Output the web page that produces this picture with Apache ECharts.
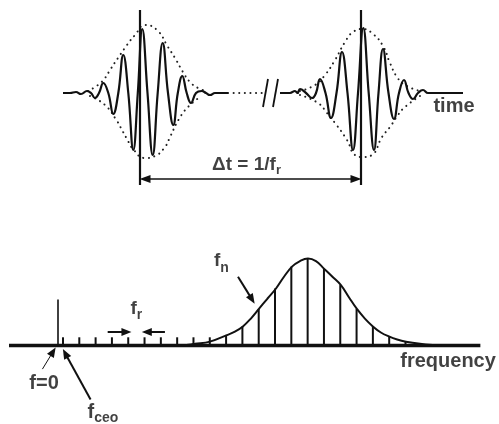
<!DOCTYPE html>
<html><head><meta charset="utf-8">
<script src="https://cdn.jsdelivr.net/npm/echarts@6/dist/echarts.min.js"></script>
<style>html,body{margin:0;padding:0;background:#fff}#c{width:499px;height:424px}</style>
</head><body><div id="c"></div>
<script>
// ---------- TIME DOMAIN (top panel): t in arbitrary units, amplitude ----------
const pulse1 = [[-77,0],[-70,0],[-64,1],[-59,-1],[-53,2],[-49,0],[-45,-5],[-41,0],[-36.7,10],[-31.7,0],[-26.7,-21],[-21.7,0],[-16.7,38],[-11.7,0],[-6.7,-57],[-2.2,0],[2.3,64],[7.5,0],[12.7,-62],[17.7,0],[22.7,50],[28,0],[33.3,-32],[37.8,0],[42.3,17],[46.7,0],[51,-10],[56,0],[61.7,2],[66,0],[70,-2],[75,0],[88,0]];
const pulse2 = [[140,0],[150,0],[155,2],[157.5,0],[160,4],[166,0],[172,-5],[176,0],[180,14],[185.5,0],[191,-25],[196.5,0],[202,41],[207.5,0],[213,-57],[218,0],[223.3,65],[228.7,0],[234,-57],[238.5,0],[243,44],[248.5,0],[254,-26],[259,0],[264,13],[268.5,0],[273,-6],[278,0],[283,3],[288,0],[293,0],[323,0]];
const env1Upper = [[-52,2],[-42,8],[-35,15],[-30,23],[-22,35],[-13,48],[-5,58],[5,68],[17,63],[28,46],[35,35],[43,21],[50,11],[58,5],[66,2]];
const env1Lower = [[-50,-3],[-35,-12],[-23,-28],[-18,-37],[-13,-46],[-7,-56],[5,-65],[15,-63],[25,-54],[30,-44],[39,-26],[48,-14],[60,-4]];
const env2Upper = [[160,2],[175,8],[185,18],[195,33],[205,51],[213,61],[223,64],[233,59],[243,47],[250,30],[257,16],[265,8],[280,2]];
const env2Lower = [[160,-2],[178,-10],[187,-20],[195,-30],[207,-47],[215,-62],[223,-64],[232,-62],[242,-44],[250,-34],[258,-22],[265,-14],[280,-3]];
const gapDotted = [[88,0],[122,0]];
const breakMarks = [[[123,-14],[128,14]],[[133,-14],[138,14]]];
const pulseMarkers = [[[0,83],[0,-92]],[[221,83],[221,-92]]];
const periodArrow = [[5,-86],[216,-86]];
const topLabels = [
  { pos:[314,-13.5], text:'{m|time}' },
  { pos:[106.5,-71.5], text:'{d|Δt = 1/f}{ds|r}' }
];

// ---------- FREQUENCY DOMAIN (bottom panel): f in units of f_r ----------
const combF = [0.31,1.31,2.31,3.31,4.31,5.31,6.31,7.31,8.31,9.31,10.31,11.31,12.31,13.31,14.31,15.31,16.31,17.31,18.31,19.31,20.31,21.31];
const combH = [0.095,0.095,0.095,0.095,0.095,0.095,0.095,0.095,0.095,0.095,0.122,0.22,0.42,0.655,0.906,0.998,0.883,0.694,0.42,0.22,0.108,0.05];
const spectrum = [[7.6,0],[8.4,0.02],[9.32,0.045],[10.36,0.12],[10.85,0.16],[11.34,0.22],[11.83,0.31],[12.32,0.42],[12.85,0.54],[13.37,0.655],[13.86,0.79],[14.35,0.906],[14.84,0.97],[15.33,1.0],[15.82,0.97],[16.31,0.883],[16.83,0.79],[17.35,0.694],[17.84,0.555],[18.33,0.42],[18.82,0.31],[19.31,0.22],[19.8,0.15],[20.29,0.105],[20.8,0.07],[21.34,0.045],[22.2,0.02],[23.0,0.005],[23.5,0]];
const baseline = [[-3,0],[25.9,0]];
const zeroLine = [[0,0],[0,0.53]];
const freqArrows = [
  { from:[3.05,0.156], to:[4.2,0.156], w:2 },
  { from:[6.56,0.156], to:[5.45,0.156], w:2 },
  { from:[-0.95,-0.27], to:[-0.3,-0.07], w:1 },
  { from:[2.0,-0.62], to:[0.45,-0.09], w:2 },
  { from:[11.04,0.79], to:[11.9,0.53], w:2 }
];
const bottomLabels = [
  { pos:[4.81,0.425], text:'{f|f}{fs|r}' },
  { pos:[10.02,0.97], text:'{f|f}{fs|n}' },
  { pos:[-0.85,-0.435], text:'{m|f=0}' },
  { pos:[2.76,-0.77], text:'{m|f}{cs|ceo}' },
  { pos:[23.92,-0.177], text:'{m|frequency}' }
];

const INK = '#111';
const FONT = "'Liberation Sans', Arial, Helvetica, sans-serif";
const rich = {
  m:  { fontFamily:FONT, fontWeight:'bold', fontSize:20, color:INK, lineHeight:22 },
  d:  { fontFamily:FONT, fontWeight:'bold', fontSize:19, color:INK, lineHeight:22 },
  ds: { fontFamily:FONT, fontWeight:'bold', fontSize:13, color:INK, lineHeight:20, padding:[11,0,0,0] },
  f:  { fontFamily:FONT, fontWeight:'bold', fontSize:19, color:INK, lineHeight:20 },
  fs: { fontFamily:FONT, fontWeight:'bold', fontSize:14, color:INK, lineHeight:18, padding:[14,0,0,0] },
  cs: { fontFamily:FONT, fontWeight:'bold', fontSize:14, color:INK, lineHeight:18, padding:[10,0,0,0] }
};

function seg(a, b, w, s0, s1, type) {
  return [
    { coord:a, symbol:s0 || 'none', lineStyle:{ color:INK, width:w, type:type || 'solid' } },
    { coord:b, symbol:s1 || 'none', lineStyle:{ color:INK, width:w, type:type || 'solid' } }
  ];
}
function lineSeries(data, xi, width, extra) {
  return Object.assign({
    type:'line', xAxisIndex:xi, yAxisIndex:xi, data:data, showSymbol:false, symbol:'none',
    clip:false, silent:true, lineStyle:{ color:INK, width:width }, itemStyle:{ color:INK }
  }, extra || {});
}
const dotStyle = { color:'#222', width:2, type:[0.1,5.5], cap:'round' };

const option = {
  animation:false,
  backgroundColor:'#fff',
  grid:[
    { left:0, right:0, top:0, height:186 },
    { left:9, right:17, top:241, bottom:0 }
  ],
  xAxis:[
    { type:'value', gridIndex:0, min:-140, max:359, show:false },
    { type:'value', gridIndex:1, min:-3, max:26, show:false }
  ],
  yAxis:[
    { type:'value', gridIndex:0, min:-93, max:93, show:false },
    { type:'value', gridIndex:1, min:-0.9, max:1.2, show:false }
  ],
  series:[
    lineSeries(env1Upper, 0, 2, { smooth:true, lineStyle:dotStyle }),
    lineSeries(env1Lower, 0, 2, { smooth:true, lineStyle:dotStyle }),
    lineSeries(env2Upper, 0, 2, { smooth:true, lineStyle:dotStyle }),
    lineSeries(env2Lower, 0, 2, { smooth:true, lineStyle:dotStyle }),
    lineSeries(gapDotted, 0, 2, { lineStyle:dotStyle }),
    lineSeries(pulse1, 0, 2.2, { smooth:0.45 }),
    lineSeries(pulse2, 0, 2.2, { smooth:0.45,
      markLine:{ silent:true, animation:false, label:{ show:false }, symbolSize:[8,11],
        data: breakMarks.map(s => seg(s[0], s[1], 1.8))
          .concat(pulseMarkers.map(s => seg(s[0], s[1], 2.2)))
          .concat([seg(periodArrow[0], periodArrow[1], 1.6, 'triangle', 'triangle')])
      }
    }),
    { type:'scatter', xAxisIndex:0, yAxisIndex:0, symbolSize:0, silent:true, clip:false,
      data: topLabels.map(l => ({ value:l.pos, label:{ formatter:l.text } })),
      label:{ show:true, position:'inside', rich:rich } },

    // bottom panel
    lineSeries(baseline, 1, 3.4),
    { type:'bar', xAxisIndex:1, yAxisIndex:1, barWidth:2, silent:true,
      data: combF.map((f, i) => [f, combH[i]]), itemStyle:{ color:INK } },
    lineSeries(spectrum, 1, 2, { smooth:0.4,
      markLine:{ silent:true, animation:false, label:{ show:false }, symbolSize:[8,10],
        data: [seg(zeroLine[0], zeroLine[1], 1.6)]
          .concat(freqArrows.map(a => seg(a.from, a.to, a.w, 'none', 'triangle')))
      }
    }),
    { type:'scatter', xAxisIndex:1, yAxisIndex:1, symbolSize:0, silent:true, clip:false,
      data: bottomLabels.map(l => ({ value:l.pos, label:{ formatter:l.text } })),
      label:{ show:true, position:'inside', rich:rich } }
  ]
};
const chart = echarts.init(document.getElementById('c'), null, { renderer:'canvas' });
chart.setOption(option);
</script></body></html>
